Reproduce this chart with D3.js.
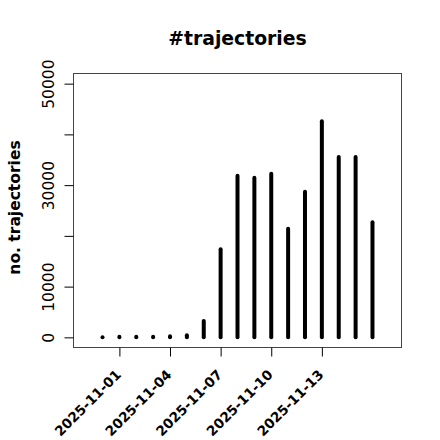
<!DOCTYPE html>
<html>
<head>
<meta charset="utf-8">
<script src="https://cdn.jsdelivr.net/npm/d3@7"></script>
<style>
  html, body { margin: 0; padding: 0; background: #fff; }
  svg { display: block; }
  text { font-family: "DejaVu Sans", sans-serif; fill: #000; }
</style>
</head>
<body>
<svg id="chart" width="440" height="440"></svg>
<script>
// ---- data ----
const dates = ["2025-10-31","2025-11-01","2025-11-02","2025-11-03","2025-11-04","2025-11-05",
  "2025-11-06","2025-11-07","2025-11-08","2025-11-09","2025-11-10","2025-11-11","2025-11-12",
  "2025-11-13","2025-11-14","2025-11-15","2025-11-16"];
const trajectories = [30, 100, 100, 100, 200, 400, 3200, 17370, 31830, 31430, 32220,
  21410, 28680, 42570, 35560, 35560, 22670];
const xTickLabels = ["2025-11-01","2025-11-04","2025-11-07","2025-11-10","2025-11-13"];
const yTickValues = [0, 10000, 20000, 30000, 40000, 50000];
const yTickLabels = ["0", "10000", "", "30000", "", "50000"];
const title = "#trajectories";
const yTitle = "no. trajectories";

// ---- layout ----
const svg = d3.select("#chart");
const box = { left: 73.5, right: 401.5, top: 73.5, bottom: 347.5 };
const parse = d3.utcParse("%Y-%m-%d");
const xLo = parse("2025-10-30").getTime(), xHi = parse("2025-11-17").getTime();
const pad = (xHi - xLo) * 0.04;
const x = d3.scaleUtc()
  .domain([new Date(xLo - pad), new Date(xHi + pad)])
  .range([box.left, box.right]);
const y = d3.scaleLinear()
  .domain([-2000, 52000])
  .range([box.bottom, box.top]);

// bars (type = "h")
svg.append("g")
  .selectAll("line")
  .data(dates.map((d, i) => ({ date: parse(d), v: trajectories[i] })))
  .join("line")
  .attr("x1", d => x(d.date))
  .attr("x2", d => x(d.date))
  .attr("y1", y(0))
  .attr("y2", d => y(d.v))
  .attr("stroke", "#000")
  .attr("stroke-width", 4)
  .attr("stroke-linecap", "round");

// box
svg.append("rect")
  .attr("x", box.left).attr("y", box.top)
  .attr("width", box.right - box.left).attr("height", box.bottom - box.top)
  .attr("fill", "none").attr("stroke", "#444").attr("stroke-width", 1);

// y axis
const yAxis = d3.axisLeft(y)
  .tickValues(yTickValues)
  .tickSize(9)
  .tickPadding(0)
  .tickFormat((d, i) => yTickLabels[i]);
const gy = svg.append("g").attr("transform", `translate(${box.left},0)`).call(yAxis);
gy.select(".domain").remove();
gy.selectAll(".tick line").attr("stroke", "#000");
gy.selectAll(".tick text")
  .attr("x", null).attr("dy", null)
  .attr("transform", `translate(${54 - box.left},0) rotate(-90)`)
  .attr("text-anchor", "middle")
  .style("font-family", "'DejaVu Sans', sans-serif")
  .style("font-size", "15.5px")
  .attr("fill", "#000");

// x axis
const xAxis = d3.axisBottom(x)
  .tickValues(xTickLabels.map(parse))
  .tickSize(9)
  .tickFormat((d, i) => xTickLabels[i]);
const gx = svg.append("g").attr("transform", `translate(0,${box.bottom})`).call(xAxis);
gx.select(".domain").remove();
gx.selectAll(".tick line").attr("stroke", "#000");
gx.selectAll(".tick text")
  .attr("y", null).attr("dy", null)
  .attr("transform", `translate(2,${375.5 - box.bottom}) rotate(-45)`)
  .attr("text-anchor", "end")
  .style("font-family", "'DejaVu Sans', sans-serif")
  .style("font-size", "13.6px")
  .style("font-weight", "bold")
  .attr("fill", "#000");

// title
svg.append("text")
  .attr("x", (box.left + box.right) / 2)
  .attr("y", 45)
  .attr("text-anchor", "middle")
  .style("font-size", "18.8px")
  .style("font-weight", "bold")
  .text(title);

// y title
svg.append("text")
  .attr("transform", `translate(19.8,207.5) rotate(-90)`)
  .attr("text-anchor", "middle")
  .style("font-size", "15.5px")
  .style("font-weight", "bold")
  .text(yTitle);
</script>
</body>
</html>
